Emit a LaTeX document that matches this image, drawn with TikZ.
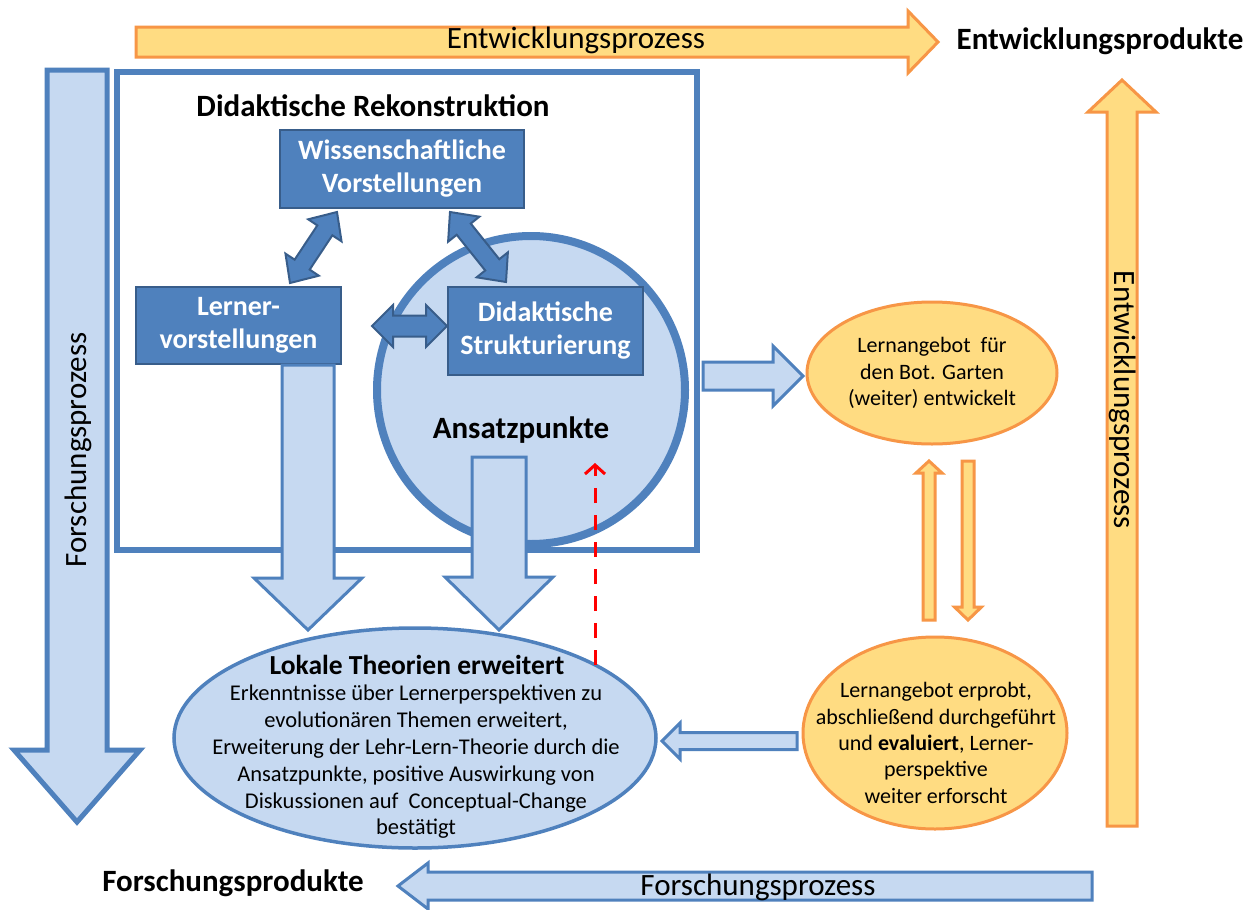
\documentclass[tikz,border=0pt]{standalone}
\usepackage{fontspec}
\setmainfont{Carlito}
\usetikzlibrary{calc,arrows.meta,shapes.geometric}

\definecolor{bline}{HTML}{4F81BD}
\definecolor{bfill}{HTML}{C6D9F1}
\definecolor{bdark}{HTML}{385D8A}
\definecolor{oline}{HTML}{F79646}
\definecolor{ofill}{HTML}{FFDC82}

% block arrow: [style]{tail}{tip}{shaft half width}{head half width}{head length}
\newcommand{\blockarrow}[6][]{%
  \coordinate (neck) at ($(#3)!#6!(#2)$);
  \draw[#1] ($(#2)!#4!90:(#3)$) -- ($(neck)!#4!-90:(#2)$) -- ($(neck)!#5!-90:(#2)$)
    -- (#3) -- ($(neck)!#5!90:(#2)$) -- ($(neck)!#4!90:(#2)$) -- ($(#2)!#4!-90:(#3)$) -- cycle;
}
% double block arrow: [style]{end A}{end B}{shaft half width}{head half width}{head length}
\newcommand{\dblarrow}[6][]{%
  \coordinate (na) at ($(#2)!#6!(#3)$);
  \coordinate (nb) at ($(#3)!#6!(#2)$);
  \draw[#1] (#2) -- ($(na)!#5!90:(#3)$) -- ($(na)!#4!90:(#3)$) -- ($(nb)!#4!-90:(#2)$)
    -- ($(nb)!#5!-90:(#2)$) -- (#3) -- ($(nb)!#5!90:(#2)$) -- ($(nb)!#4!90:(#2)$)
    -- ($(na)!#4!-90:(#3)$) -- ($(na)!#5!-90:(#3)$) -- cycle;
}

\begin{document}
\begin{tikzpicture}[x=1pt,y=-1pt,
  blueblock/.style={draw=bline, fill=bfill, line width=3pt, line join=miter},
  bigblue/.style={draw=bline, fill=bfill, line width=5pt, line join=miter},
  orangeblock/.style={draw=oline, fill=ofill, line width=3pt, line join=miter},
  darkdbl/.style={draw=bdark, fill=bline, line width=2pt, line join=miter},
  darkbox/.style={draw=bdark, fill=bline, line width=2.5pt, text=white,
    font=\fontsize{28}{33}\selectfont\bfseries, align=center, inner sep=0pt},
  proc/.style={font=\fontsize{31}{36}\selectfont, inner sep=0pt},
  prod/.style={font=\fontsize{31}{36}\selectfont\bfseries, inner sep=0pt},
  etext/.style={font=\fontsize{22}{26.4}\selectfont, align=center, inner sep=0pt},
]
\useasboundingbox[fill=white] (0,0) rectangle (1254,910);

% process arrows around the frame
\coordinate (topT) at (136,42);  \coordinate (topH) at (938,42);
\coordinate (rgtT) at (1122,826); \coordinate (rgtH) at (1122,80);
\coordinate (lftT) at (77,70);   \coordinate (lftH) at (77,822);
\coordinate (botT) at (1092,886); \coordinate (botH) at (398,886);
\blockarrow[orangeblock]{topT}{topH}{15pt}{31pt}{30pt}
\blockarrow[orangeblock]{rgtT}{rgtH}{15pt}{34pt}{32pt}
\blockarrow[bigblue]{lftT}{lftH}{30pt}{63pt}{72pt}
\blockarrow[blueblock]{botT}{botH}{14pt}{23pt}{30pt}

\node[proc] (entw) at (576,40) {Entwicklungsprozess};
\node[proc, rotate=-90] (entwv) at (1123,400) {Entwicklungsprozess};
\node[proc, rotate=90] (forv) at (78,450) {Forschungsprozess};
\node[proc] (forb) at (758,887) {Forschungsprozess};
\node[prod] (entwprod) at (1100,41) {Entwicklungsprodukte};
\node[prod] (forprod) at (233,883) {Forschungsprodukte};

% didactic reconstruction frame
\node[draw=bline, line width=6pt, fill=white, minimum width=580pt, minimum height=478pt] (frame) at (407,311) {};
\node[font=\fontsize{31}{36}\selectfont\bfseries, inner sep=0pt] (dr) at (373,106) {Didaktische Rekonstruktion};

\node[circle, draw=bline, line width=8pt, fill=bfill, minimum size=308pt] (circ) at (531,390) {};
\node[font=\fontsize{31}{36}\selectfont\bfseries, inner sep=0pt] (ansatz) at (521,430) {Ansatzpunkte};

\node[darkbox, minimum width=244pt, minimum height=78pt] (wiss) at (402,169) {Wissenschaftliche\\Vorstellungen};
\node[darkbox, minimum width=205pt, minimum height=77pt] (lern) at (238.5,325.5) {Lerner-\\vorstellungen};
\node[darkbox, minimum width=195pt, minimum height=88pt] (didak) at (545.5,331) {Didaktische\\Strukturierung};

\coordinate (wlA) at (337,212); \coordinate (wlB) at (290,283);
\coordinate (wdA) at (450,212); \coordinate (wdB) at (506,282);
\coordinate (ldA) at (372,326); \coordinate (ldB) at (447,326);
\dblarrow[darkdbl]{wlA}{wlB}{9pt}{20pt}{22pt}
\dblarrow[darkdbl]{wdA}{wdB}{9pt}{20pt}{22pt}
\dblarrow[darkdbl]{ldA}{ldB}{10.5pt}{21pt}{21pt}

% outcomes
\node[ellipse, draw=oline, fill=ofill, line width=3pt, minimum width=250pt, minimum height=142pt] (ang1) at (932,373) {};
\node[etext] (ang1t) at (ang1.center) {Lernangebot\ \ für\\den Bot. Garten\\(weiter) entwickelt};

\node[ellipse, draw=oline, fill=ofill, line width=3pt, minimum width=264pt, minimum height=192pt] (ang2) at (935,733) {};
\node[etext] (ang2t) at (936,743) {Lernangebot erprobt,\\abschließend durchgeführt\\und \textbf{evaluiert}, Lerner-\\perspektive\\weiter erforscht};

\node[ellipse, draw=bline, fill=bfill, line width=3.5pt, minimum width=482pt, minimum height=220pt] (lok) at (415,738) {};
\node[font=\fontsize{27.5}{30}\selectfont\bfseries, inner sep=0pt] (lokt) at (417,665) {Lokale Theorien erweitert};
\node[font=\fontsize{22.5}{26.8}\selectfont, align=center, inner sep=0pt] (lokb) at (416,762)
  {Erkenntnisse über Lernerperspektiven zu\\evolutionären Themen erweitert,\\Erweiterung der Lehr-Lern-Theorie durch die\\Ansatzpunkte, positive Auswirkung von\\Diskussionen auf\ \ Conceptual-Change\\bestätigt};

% flow arrows
\coordinate (eT) at (308,365); \coordinate (eH) at (308,630);
\coordinate (fT) at (499,457); \coordinate (fH) at (499,630);
\coordinate (gT) at (703,376); \coordinate (gH) at (803,376);
\coordinate (upT) at (929,620); \coordinate (upH) at (929,461);
\coordinate (dnT) at (968,461); \coordinate (dnH) at (968,620);
\coordinate (kT) at (797,741); \coordinate (kH) at (662,741);
\blockarrow[blueblock]{eT}{eH}{26pt}{54pt}{52pt}
\blockarrow[blueblock]{fT}{fH}{27pt}{54pt}{53pt}
\blockarrow[blueblock]{gT}{gH}{14pt}{30pt}{30pt}
\blockarrow[orangeblock]{upT}{upH}{6pt}{13pt}{12pt}
\blockarrow[orangeblock]{dnT}{dnH}{6pt}{13.5pt}{13pt}
\blockarrow[blueblock]{kT}{kH}{8.5pt}{18pt}{18pt}

% feedback to the starting points
\coordinate (rdT) at (595,665); \coordinate (rdH) at (595,463);
\draw[red, line width=3pt, dash pattern=on 15pt off 12pt, -{Straight Barb[length=9pt,width=20pt]}] (rdT) -- (rdH);
\end{tikzpicture}
\end{document}
